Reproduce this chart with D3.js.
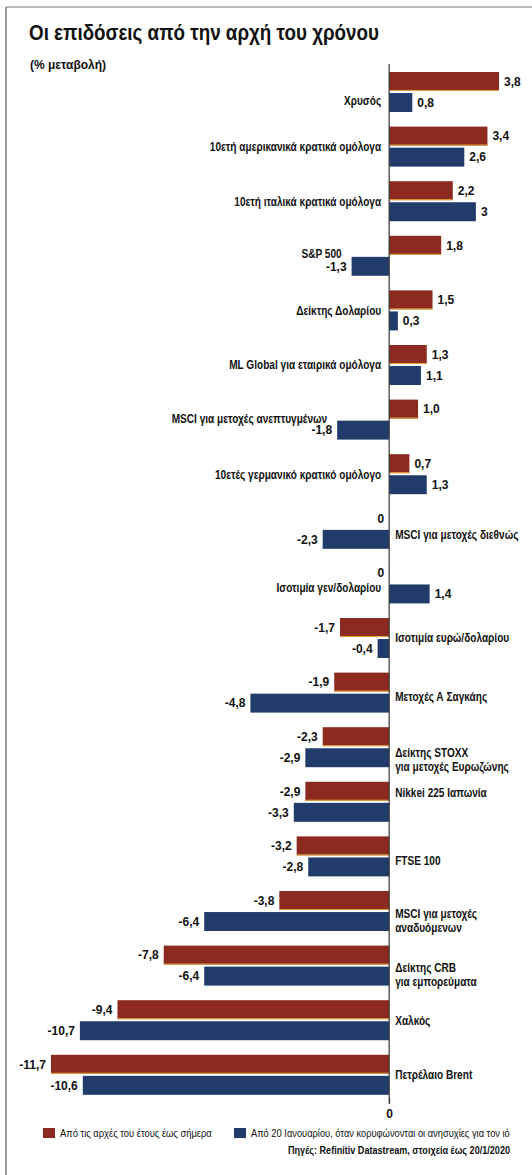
<!DOCTYPE html>
<html>
<head>
<meta charset="utf-8">
<script src="https://cdn.jsdelivr.net/npm/d3@7"></script>
<style>
  html, body { margin: 0; padding: 0; background: #ffffff; }
  svg { display: block; }
  text { font-family: "Liberation Sans", Arial, sans-serif; fill: #111; }
</style>
</head>
<body>
<div id="chart"></div>
<script>
// ---------------- DATA ----------------
const categories = [
  "Χρυσός",
  "10ετή αμερικανικά κρατικά ομόλογα",
  "10ετή ιταλικά κρατικά ομόλογα",
  "S&P 500",
  "Δείκτης Δολαρίου",
  "ML Global για εταιρικά ομόλογα",
  "MSCI για μετοχές ανεπτυγμένων",
  "10ετές γερμανικό κρατικό ομόλογο",
  "MSCI για μετοχές διεθνώς",
  "Ισοτιμία γεν/δολαρίου",
  "Ισοτιμία ευρώ/δολαρίου",
  "Μετοχές Α Σαγκάης",
  "Δείκτης STOXX\nγια μετοχές Ευρωζώνης",
  "Nikkei 225 Ιαπωνία",
  "FTSE 100",
  "MSCI για μετοχές\nαναδυόμενων",
  "Δείκτης CRB\nγια εμπορεύματα",
  "Χαλκός",
  "Πετρέλαιο Brent"
];
// % change since start of year (as printed)
const sinceYearStart = ["3,8","3,4","2,2","1,8","1,5","1,3","1,0","0,7","0","0",
  "-1,7","-1,9","-2,3","-2,9","-3,2","-3,8","-7,8","-9,4","-11,7"];
// % change since 20 January (as printed)
const sinceJan20 = ["0,8","2,6","3","-1,3","0,3","1,1","-1,8","1,3","-2,3","1,4",
  "-0,4","-4,8","-2,9","-3,3","-2,8","-6,4","-6,4","-10,7","-10,6"];
const seriesNames = [
  "Από τις αρχές του έτους έως σήμερα",
  "Από 20 Ιανουαρίου, όταν κορυφώνονται οι ανησυχίες για τον ιό"
];
const axisTicks = [0];
const title = "Οι επιδόσεις από την αρχή του χρόνου";
const subtitle = "(% μεταβολή)";
const source = "Πηγές: Refinitiv Datastream, στοιχεία έως 20/1/2020";

// ---------------- LAYOUT (not data) ----------------
const labelSide = ["L","L","L","L","L","L","L","L","R","L","R","R","R","R","R","R","R","R","R"];
const labelDy   = [9,0,0,-2,0,0,-1,0,6,4,0,4,12,-9,4,10,9,0,0];
const colors = { ytd: "#8c2a1f", jan: "#213c6b", stripe: "#e2a83a" };
const labelScale = 0.84;

const W = 532, H = 1175;
const parse = s => +s.replace(",", ".");

const svg = d3.select("#chart").append("svg").attr("width", W).attr("height", H);
svg.append("rect").attr("width", W).attr("height", H).attr("fill", "#ffffff");

// frame
svg.append("line").attr("x1", 6).attr("x2", 6).attr("y1", 7).attr("y2", H).attr("stroke", "#555").attr("stroke-width", 1.2);
svg.append("line").attr("x1", 6).attr("x2", W).attr("y1", 7).attr("y2", 7).attr("stroke", "#777").attr("stroke-width", 1.2);

// helper: text squeezed horizontally to a target width (condensed look)
function squeezed(parent, str, x0, y0, width, size, weight, anchor) {
  const t = parent.append("text").attr("font-size", size).attr("font-weight", weight)
    .attr("text-anchor", anchor || "start").attr("y", y0).attr("dy", "0.36em").text(str);
  const natural = t.node().getComputedTextLength();
  const s = Math.min(1, width / natural);
  t.attr("x", x0 / s).attr("transform", `scale(${s},1)`);
  return t;
}

// title
svg.append("text").attr("x", 29).attr("y", 40).text(title)
  .attr("font-size", 22).attr("font-weight", "bold")
  .attr("textLength", 350).attr("lengthAdjust", "spacingAndGlyphs");
squeezed(svg, subtitle, 30, 65, 82, 12, "bold");

// scales
const x = d3.scaleLinear().domain([-11.7, 3.8]).range([51, 499]);
const y = d3.scaleBand().domain(d3.range(categories.length))
  .range([72, 72 + 18 * 54.6 + 40]).paddingInner(14.6 / 54.6).paddingOuter(0);
const sub = d3.scaleBand().domain(["ytd", "jan"]).range([0, y.bandwidth()]).paddingInner(0.1);

const rows = categories.map((c, i) => ({
  i, name: c,
  ytd: parse(sinceYearStart[i]), ytdLabel: sinceYearStart[i],
  jan: parse(sinceJan20[i]), janLabel: sinceJan20[i]
}));

const g = svg.append("g");

// bars
["ytd", "jan"].forEach(key => {
  g.selectAll("rect.bar-" + key).data(rows.filter(d => d[key] !== 0)).join("rect")
    .attr("class", "bar-" + key)
    .attr("x", d => x(Math.min(0, d[key])))
    .attr("width", d => Math.abs(x(d[key]) - x(0)))
    .attr("y", d => y(d.i) + sub(key))
    .attr("height", sub.bandwidth())
    .attr("fill", colors[key]);
  if (key === "ytd") {
    g.selectAll("line.stripe").data(rows.filter(d => d.ytd !== 0)).join("line")
      .attr("class", "stripe")
      .attr("x1", d => x(Math.min(0, d.ytd)))
      .attr("x2", d => x(Math.max(0, d.ytd)))
      .attr("y1", d => y(d.i) + sub("ytd") + sub.bandwidth() - 0.5)
      .attr("y2", d => y(d.i) + sub("ytd") + sub.bandwidth() - 0.5)
      .attr("stroke", colors.stripe).attr("stroke-width", 1);
  }
  // value labels
  g.selectAll("text.val-" + key).data(rows).join("text")
    .attr("class", "val-" + key)
    .attr("x", d => d[key] > 0 ? x(d[key]) + 5 : x(d[key]) - 5)
    .attr("y", d => y(d.i) + sub(key) + sub.bandwidth() / 2)
    .attr("dy", "0.36em")
    .attr("text-anchor", d => d[key] > 0 ? "start" : "end")
    .attr("font-size", 12)
    .attr("font-weight", "bold")
    .text(d => d[key + "Label"]);
});

// zero axis
const axis = d3.axisBottom(x).tickValues(axisTicks).tickSize(6).tickFormat(d3.format("d"));
const ax = svg.append("g").attr("transform", `translate(0, ${y.range()[1] + 3})`).call(axis);
ax.select(".domain").remove();
ax.selectAll(".tick line").attr("stroke", "#444");
ax.selectAll(".tick text").attr("font-size", 12).attr("font-weight", "bold").attr("dy", "0.9em")
  .style("font-family", "'Liberation Sans', Arial, sans-serif").attr("fill", "#111");
svg.append("line").attr("x1", x(0)).attr("x2", x(0)).attr("y1", 64).attr("y2", y.range()[1] + 9)
  .attr("stroke", "#333").attr("stroke-width", 1.2);

// category labels (condensed look via horizontal scale)
rows.forEach(d => {
  const lines = d.name.split("\n");
  const minEnd = Math.min(x(0), x(d.ytd), x(d.jan));
  let lx, anchor;
  if (labelSide[d.i] === "L") {
    lx = minEnd < x(0) - 1 ? minEnd - 10 : x(0) - 8;
    anchor = "end";
  } else {
    lx = x(0) + 6;
    anchor = "start";
  }
  const cy = y(d.i) + y.bandwidth() / 2 + labelDy[d.i];
  const lh = 14;
  const t = g.append("text").attr("text-anchor", anchor).attr("font-size", 12).attr("font-weight", "bold")
    .attr("transform", `scale(${labelScale},1)`);
  lines.forEach((ln, k) => {
    t.append("tspan").attr("x", lx / labelScale)
      .attr("y", cy + (k - (lines.length - 1) / 2) * lh)
      .attr("dy", "0.36em").text(ln);
  });
});

// legend
const legY = 1133;
const leg = svg.append("g");
[[43, colors.ytd, seriesNames[0], 60, 152], [234, colors.jan, seriesNames[1], 251, 259]].forEach(([sx, c, name, tx, len]) => {
  leg.append("rect").attr("x", sx).attr("y", legY - 5).attr("width", 12).attr("height", 10).attr("fill", c);
  squeezed(leg, name, tx, legY, len, 11.5, "normal");
});
squeezed(svg, source, 510, 1150, 222, 11.5, "bold", "end");
</script>
</body>
</html>
